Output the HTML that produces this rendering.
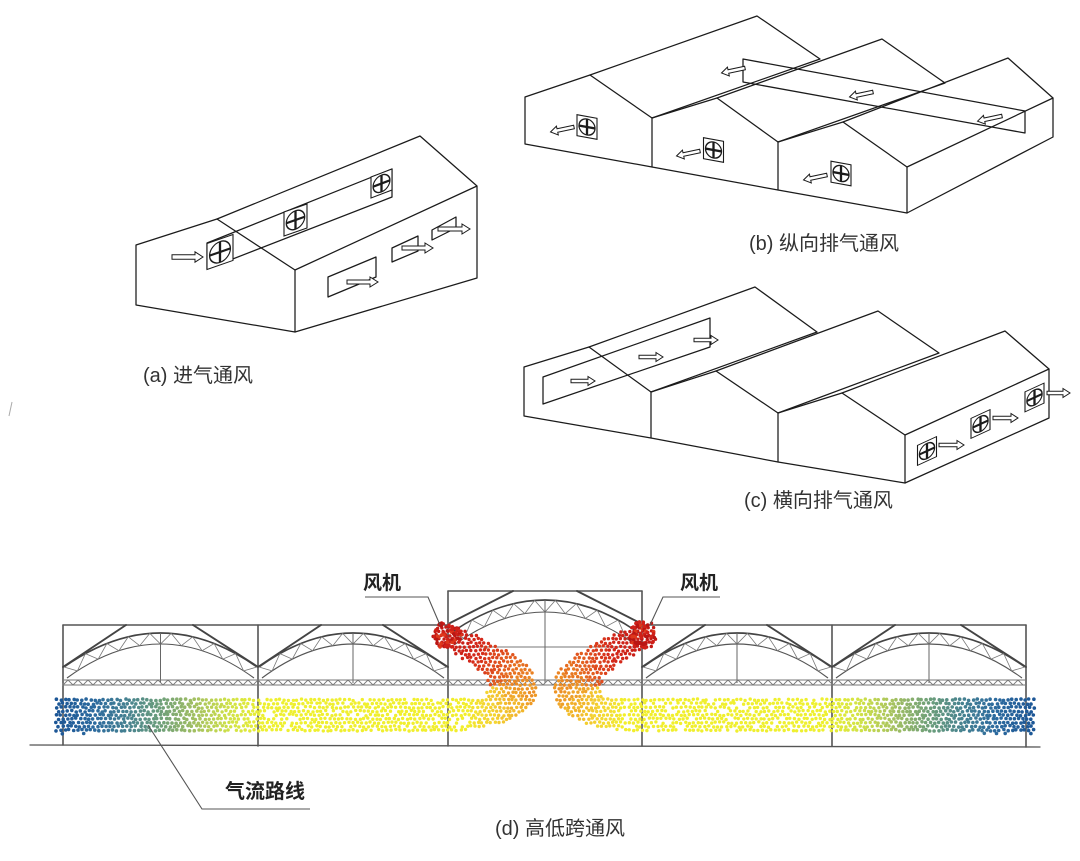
<!DOCTYPE html>
<html><head><meta charset="utf-8">
<style>
html,body{margin:0;padding:0;background:#fff;}
svg{display:block;}
text{font-family:"Liberation Sans","Noto Sans CJK SC",sans-serif;}
</style></head>
<body>
<svg id="s" width="1080" height="861" viewBox="0 0 1080 861" xmlns="http://www.w3.org/2000/svg">
<rect width="1080" height="861" fill="#fff"/>
<path d="M12,402 L9,416" stroke="#aaa" stroke-width="1"/>

<g stroke="#1b1b1b" stroke-width="1.25" fill="none" stroke-linejoin="round" stroke-linecap="round">
<!-- (a) -->
<path d="M136,245 L217,219 L295,270 L295,332 L136,305 Z"/>
<path d="M217,219 L420,136 L477,186 L477,278 L295,332 M295,270 L477,186"/>
<path d="M207,243 L392,169 L392,197 L207,269 Z"/>
<path d="M328,277 L376,257 L376,277 L328,297 Z"/>
<path d="M392,248 L418,236 L418,251 L392,262 Z"/>
<path d="M432,230 L456,217 L456,228 L432,240 Z"/>
<!-- (b) -->
<path d="M525,97 L590,75 L652,118 L717,98 L778,142 L843,122 L907,167 L1053,98 L1053,137 L907,213 L778,190 L652,167 L525,144 Z"/>
<path d="M652,118 V167 M778,142 V190 M907,167 V213"/>
<path d="M590,75 L757,16 L820,59 M652,118 L820,59 M717,98 L882,39 L945,83 M778,142 L945,83 M843,122 L1008,58 L1053,98"/>
<path d="M743,59 L1025,111 L1025,133 L743,82 Z"/>
<!-- (c) -->
<path d="M524,367 L589,347 L651,392 L716,371 L778,413 L842,393 L905,435 L1049,369 L1049,418 L905,483 L778,462 L651,438 L524,416 Z"/>
<path d="M651,392 V438 M778,413 V462 M905,435 V483"/>
<path d="M589,347 L755,287 L817,332 M651,392 L817,332 M716,371 L878,311 L939,353 M778,413 L939,353 M842,393 L1005,331 L1049,369"/>
<path d="M543,377 L710,318 L710,347 L543,404 Z"/>
</g>
<g id="icons"></g>

<!-- (d) structure -->
<g id="struct" fill="none" stroke-linecap="round">
<path d="M30,745 L1040,747" stroke="#555" stroke-width="1.3"/>
<path d="M63,625 V745 M258,625 V746 M448,591 V746 M642,591 V746 M832,625 V746 M1026,625 V747" stroke="#555" stroke-width="1.6"/>
<path d="M63,625 H448 M642,625 H1026 M448,591 H642" stroke="#555" stroke-width="1.5"/>
<path d="M126,625 L63,667 M193,625 L258,667 M321,625 L258,667 M383,625 L448,667 M705,625 L642,667 M767,625 L832,667 M895,625 L832,667 M961,625 L1026,667 M513,591 L450,623 M577,591 L640,623" stroke="#444" stroke-width="1.9"/>
<path d="M455,647 H637" stroke="#777" stroke-width="1"/>
</g>
<g id="truss" fill="none"></g>
<g id="dots"></g>

<g fill="none" stroke="#555" stroke-width="1.1">
<path d="M365,597 H428 L440,625"/>
<path d="M720,597 H663 L650,625"/>
<path d="M148,725 L202,809 H310"/>
</g>

<g fill="#333" font-size="20">
<text x="143" y="382">(a) 进气通风</text>
<text x="749" y="250">(b) 纵向排气通风</text>
<text x="744" y="507">(c) 横向排气通风</text>
<text x="495" y="835">(d) 高低跨通风</text>
</g>
<g fill="#222" font-size="19" font-weight="bold">
<text x="363" y="589">风机</text>
<text x="680" y="589">风机</text>
<text x="225" y="798" font-size="20">气流路线</text>
</g>
</svg>
<script>
(function(){
var out='';
var K='#1b1b1b';
function fan(cx,cy,w,h,s){
 var r=Math.min(w,h)*0.4;
 out+='<g transform="translate('+cx+','+cy+') matrix(1,'+s+',0,1,0,0)"><rect x="'+(-w/2)+'" y="'+(-h/2)+'" width="'+w+'" height="'+h+'" fill="#fff" stroke="'+K+'" stroke-width="1.1"/><circle r="'+r+'" fill="none" stroke="'+K+'" stroke-width="1.3"/><path d="M'+(-r)+',0H'+r+'M0,'+(-r)+'V'+r+'" stroke="'+K+'" stroke-width="2.3"/><circle r="1.5" fill="'+K+'"/></g>';
}
function arrow(x,y,L,ang,sh,hh,hl){
 sh=sh||1.8;hh=hh||4.5;hl=hl||7;
 var p='0,'+(-sh)+' '+(L-hl)+','+(-sh)+' '+(L-hl)+','+(-hh)+' '+L+',0 '+(L-hl)+','+hh+' '+(L-hl)+','+sh+' 0,'+sh;
 out+='<polygon transform="translate('+x+','+y+') rotate('+ang+')" points="'+p+'" fill="#fff" stroke="'+K+'" stroke-width="1"/>';
}
fan(220,252,26,26,-0.35);fan(295.5,220,23,24,-0.35);fan(381.5,183.5,21,21,-0.38);
arrow(172,257,31,0,2.2,5.2,8);
arrow(347,282,31,0,2,5,8);arrow(402,248,31,0,2,5,8);arrow(438,229,32,0,2,5,8);
fan(587,127,20,21,0.18);fan(713.5,150,20,21,0.18);fan(841,173.5,20,21,0.18);
var A=168;
arrow(574,127,24,A);arrow(700,151,24,A);arrow(827,175,24,A);
arrow(745,68,24,A);arrow(873,92,24,A);arrow(1002,116,25,A);
fan(927,451,19,20,-0.46);fan(980.5,424,19,20,-0.46);fan(1034.5,397.5,19,20,-0.46);
arrow(571,381,24,0);arrow(639,357,24,0);arrow(694,340,24,0);
arrow(939,445,25,0);arrow(993,418,25,0);arrow(1047,393,23,0);
document.getElementById('icons').innerHTML=out;

var t='';
function q(p0,c,p2,u){return (1-u)*(1-u)*p0+2*(1-u)*u*c+u*u*p2;}
function arch(a,b,y0,pk,y1,pk1,ins){
 var m=(a+b)/2,c0=2*pk-y0,c1=2*pk1-y1;
 t+='<path d="M'+(a+ins)+','+y0+' Q'+m+','+c0+' '+(b-ins)+','+y0+'" stroke="#444" stroke-width="1.6"/>';
 t+='<path d="M'+(a+ins+3)+','+y1+' Q'+m+','+c1+' '+(b-ins-3)+','+y1+'" stroke="#555" stroke-width="1.1"/>';
 var N=18,d='';
 for(var i=0;i<=N;i++){
  var u=i/N;
  var xu=q(a+ins,m,b-ins,u),yu=q(y0,c0,y0,u);
  var xl=q(a+ins+3,m,b-ins-3,u),yl=q(y1,c1,y1,u);
  if(i%2==0){d+=(i==0?'M':'L')+xu.toFixed(1)+','+yu.toFixed(1);}
  else{d+='L'+xl.toFixed(1)+','+yl.toFixed(1);}
 }
 t+='<path d="'+d+'" stroke="#777" stroke-width="0.8"/>';
 t+='<path d="M'+m+','+pk+' V683" stroke="#666" stroke-width="1"/>';
}
arch(63,258,667,633,678,644,1);arch(258,448,667,633,678,644,1);
arch(642,832,667,633,678,644,1);arch(832,1026,667,633,678,644,1);
arch(448,642,633,600,645,612,3);
var z='M63,680 H1026 M63,685 H1026 M63,683';
for(var x=63,k=0;x<=1026;x+=5,k++){z+='L'+x+','+(k%2?680:685);}
t+='<path d="'+z+'" stroke="#777" stroke-width="0.9"/>';
document.getElementById('truss').innerHTML=t;

// dots
var seed=987654;
function rnd(){seed=(seed*1103515245+12345)%2147483648;return seed/2147483648;}
function lerp(st,v){
 if(v<=st[0][0])return st[0][1];
 for(var i=1;i<st.length;i++){if(v<=st[i][0]){var a=st[i-1],b=st[i],f=(v-a[0])/(b[0]-a[0]);
  return [a[1][0]+(b[1][0]-a[1][0])*f,a[1][1]+(b[1][1]-a[1][1])*f,a[1][2]+(b[1][2]-a[1][2])*f];}}
 return st[st.length-1][1];
}
var SS=[[0,[196,26,22]],[35,[212,40,26]],[60,[224,80,30]],[85,[234,128,34]],[110,[241,176,42]],[135,[244,212,50]],[160,[242,234,46]]];
var XS=[[56,[28,86,150]],[95,[44,106,158]],[125,[68,128,146]],[160,[108,158,122]],[197,[166,194,96]],[230,[208,226,70]],[265,[238,240,48]],[480,[242,238,44]]];
var C=[[447,634],[470,646],[495,658],[515,671],[520,688],[510,705],[485,714],[450,716],[57,715]];
var cum=[0];for(var i=1;i<C.length;i++){cum.push(cum[i-1]+Math.hypot(C[i][0]-C[i-1][0],C[i][1]-C[i-1][1]));}
function sOf(x,y){
 var best=1e9,bs=0;
 for(var i=1;i<C.length;i++){
  var ax=C[i-1][0],ay=C[i-1][1],dx=C[i][0]-ax,dy=C[i][1]-ay,L2=dx*dx+dy*dy;
  var u=((x-ax)*dx+(y-ay)*dy)/L2;u=Math.max(0,Math.min(1,u));
  var px=ax+dx*u,py=ay+dy*u,d=(x-px)*(x-px)+(y-py)*(y-py);
  if(d<best){best=d;bs=cum[i-1]+Math.sqrt(L2)*u;}
 }
 return bs;
}
var POLY=[[436,622],[463,628],[490,641],[514,655],[530,668],[537,684],[535,699],[525,713],[506,723],[480,729],[440,732],[300,733],[150,733],[56,734],[55,698],[150,698],[300,698],[440,698],[484,698],[489,688],[487,676],[470,664],[452,652],[434,645]];
function inside(x,y){
 var c=false;
 for(var i=0,j=POLY.length-1;i<POLY.length;j=i++){
  var xi=POLY[i][0],yi=POLY[i][1],xj=POLY[j][0],yj=POLY[j][1];
  if(((yi>y)!=(yj>y))&&(x<(xj-xi)*(y-yi)/(yj-yi)+xi))c=!c;
 }
 return c;
}
var dd='';
function dot(x,y,c,r,mir){
 if(mir)x=1090-x;
 dd+='<circle cx="'+x.toFixed(1)+'" cy="'+y.toFixed(1)+'" r="'+r+'" fill="rgb('+Math.round(c[0])+','+Math.round(c[1])+','+Math.round(c[2])+')"/>';
}
function stream(mir){
 var sp=4.3,rh=3.8;
 for(var y=620,r=0;y<=736;y+=rh,r++){
  for(var x=50+(r%2)*sp/2;x<=542;x+=sp){
   var jx=x+(rnd()-0.5)*1.6,jy=y+(rnd()-0.5)*1.6;
   if(!inside(jx,jy))continue;
   var s=sOf(jx,jy);
   var c=(jx<470&&jy>696)?lerp(XS,jx):lerp(SS,s+(rnd()-0.5)*10);
   if(jx>230&&jy>696&&jx<470&&rnd()<0.1)continue;
   dot(jx,jy,c,jx<200?1.8:1.7,mir);
  }
 }
 for(var i=0;i<60;i++){
  var a=rnd()*6.283,rr=Math.sqrt(rnd())*14;
  var x=447+Math.cos(a)*rr,y=635+Math.sin(a)*rr;
  var v=rnd();var c=v<0.3?[185,22,20]:(v<0.8?[208,32,24]:[222,56,28]);
  dot(x,y,c,1.8,mir);
 }
}
stream(false);stream(true);
document.getElementById('dots').innerHTML=dd;
})();
</script>
</body></html>
